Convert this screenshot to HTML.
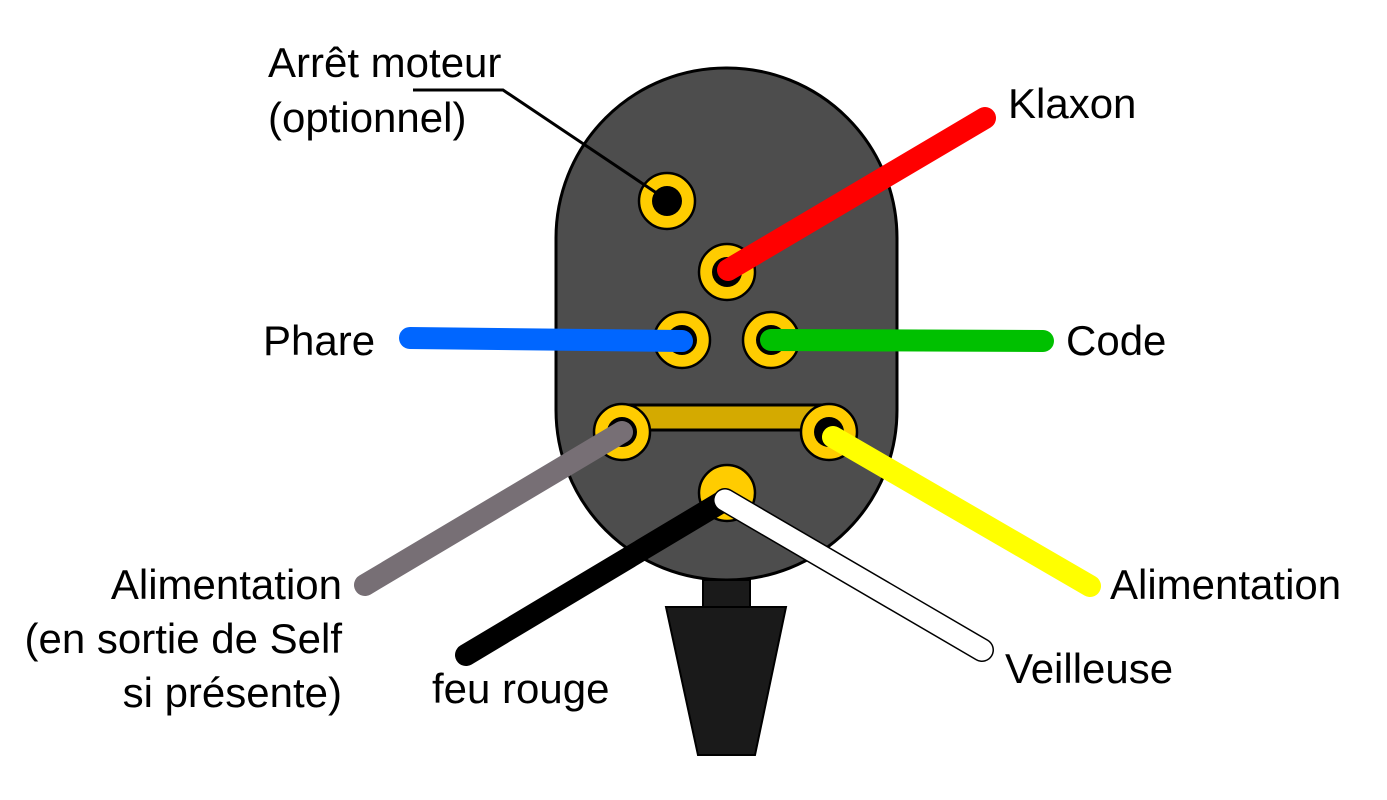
<!DOCTYPE html>
<html><head><meta charset="utf-8"><style>
html,body{margin:0;padding:0;background:#fff;}
svg{display:block}
text{font-family:"Liberation Sans",sans-serif;font-size:42px;fill:#000}
</style></head><body>
<svg width="1387" height="800" viewBox="0 0 1387 800">
<rect x="556" y="68" width="341" height="512" rx="170" ry="170" fill="#4d4d4d" stroke="#000" stroke-width="3"/>
<rect x="703" y="580" width="47" height="28" fill="#1a1a1a" stroke="#000" stroke-width="2"/>
<polygon points="666,607 786,607 755,755 698,755" fill="#1a1a1a" stroke="#000" stroke-width="2"/>
<rect x="622" y="405" width="207" height="25" fill="#d4aa00" stroke="#000" stroke-width="3"/>
<g fill="#ffcc00" stroke="#000" stroke-width="2.5">
<circle cx="667" cy="201" r="28"/>
<circle cx="727" cy="272" r="28"/>
<circle cx="682" cy="340" r="28"/>
<circle cx="771" cy="340" r="28"/>
<circle cx="622" cy="432" r="28"/>
<circle cx="829" cy="432" r="28"/>
<circle cx="727" cy="493" r="28"/>
</g>
<g fill="#000">
<circle cx="667" cy="201" r="15"/>
<circle cx="727" cy="272" r="15"/>
<circle cx="682" cy="340" r="15"/>
<circle cx="771" cy="340" r="15"/>
<circle cx="622" cy="432" r="15"/>
<circle cx="829" cy="432" r="15"/>
</g>
<polyline points="413,90 503,90 664,198" fill="none" stroke="#000" stroke-width="3"/>
<g stroke-linecap="round" stroke-width="22" fill="none">
<line x1="728" y1="270" x2="985" y2="118" stroke="#ff0000"/>
<line x1="410" y1="338" x2="682" y2="341" stroke="#0066ff"/>
<line x1="771" y1="340" x2="1043" y2="341" stroke="#00c000"/>
<line x1="622" y1="432" x2="365" y2="585" stroke="#776f75"/>
<line x1="833" y1="437" x2="1090" y2="586" stroke="#ffff00"/>
<line x1="725" y1="500" x2="466" y2="655" stroke="#000"/>
<line x1="725" y1="500" x2="982" y2="650" stroke="#000" stroke-width="24"/>
<line x1="725" y1="500" x2="982" y2="650" stroke="#fff" stroke-width="21"/>
</g>
<text x="268" y="77">Arrêt moteur</text>
<text x="268" y="132">(optionnel)</text>
<text x="1008" y="118">Klaxon</text>
<text x="263" y="355">Phare</text>
<text x="1066" y="355">Code</text>
<text x="342" y="599" text-anchor="end">Alimentation</text>
<text x="342" y="653" text-anchor="end">(en sortie de Self</text>
<text x="342" y="707" text-anchor="end">si présente)</text>
<text x="432" y="703">feu rouge</text>
<text x="1005" y="683">Veilleuse</text>
<text x="1110" y="599">Alimentation</text>
</svg>
</body></html>
